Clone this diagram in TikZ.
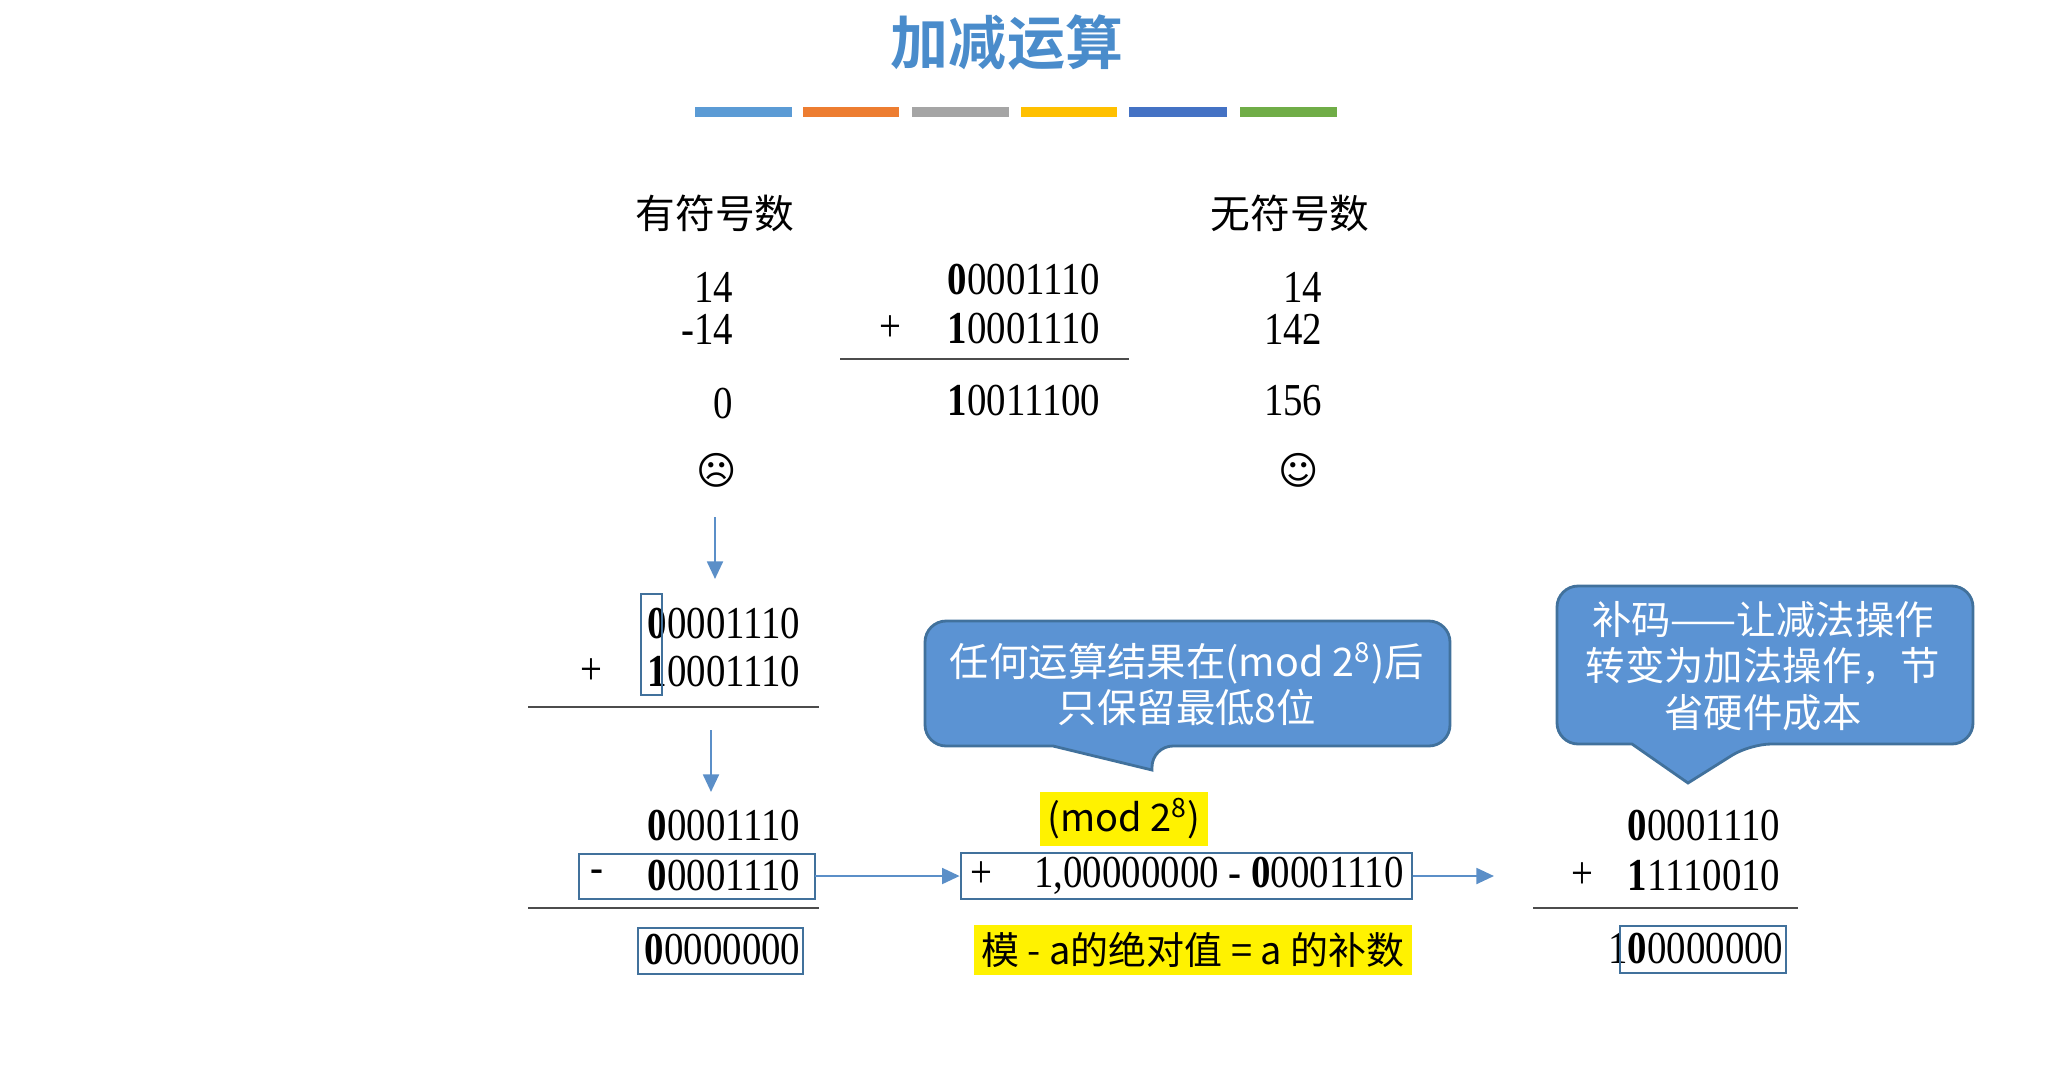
\documentclass[tikz,border=0pt]{standalone}
\usepackage{fontspec}
\setmainfont{Liberation Serif}
\newfontfamily\cjk{Noto Sans CJK SC}
\newfontfamily\cjkb{Noto Sans CJK SC}[BoldFont={* Bold}]
\newfontfamily\digits{Liberation Serif}[FakeStretch=0.85]
\newfontfamily\sym{DejaVu Sans}
\usetikzlibrary{arrows.meta}
\definecolor{tblue}{HTML}{4A8CCB}
\definecolor{cfill}{HTML}{5B93D3}
\definecolor{cline}{HTML}{41719C}
\definecolor{arr}{HTML}{5B8FC8}
\definecolor{b1}{HTML}{5B9BD5}\definecolor{b2}{HTML}{ED7D31}\definecolor{b3}{HTML}{A5A5A5}
\definecolor{b4}{HTML}{FFC000}\definecolor{b5}{HTML}{4472C4}\definecolor{b6}{HTML}{70AD47}
\tikzset{
 num/.style={anchor=east,inner sep=0pt,font=\digits\fontsize{13}{14}\selectfont},
 lbl/.style={inner sep=0pt,font=\cjk\fontsize{11.3}{13}\selectfont},
 face/.style={inner sep=0pt,font=\sym\fontsize{11}{14}\selectfont},
 ctext/.style={align=center,text=white,inner sep=0pt,font=\cjk\fontsize{11.2}{13.2}\selectfont},
 calloutshape/.style={fill=cfill,draw=cline,line width=0.8pt},
 rule/.style={draw=black!70,line width=0.6pt},
 frame/.style={draw=cline,line width=0.7pt},
 flow/.style={draw=arr,line width=0.7pt,-{Triangle[length=5pt,width=4.5pt]}},
 bar/.style={line width=3pt},
 hl/.style={fill=yellow,inner sep=2pt,font=\cjk\fontsize{10.8}{13}\selectfont}
}
\begin{document}
\begin{tikzpicture}[x=0.01cm,y=-0.01cm]
\useasboundingbox (0,0) rectangle (2063,1078);
% title
\node[text=tblue,font=\cjkb\bfseries\fontsize{16.5}{18}\selectfont] (title) at (1007,43) {加减运算};
\foreach \a/\b/\c in {695/792/b1,803/899/b2,912/1009/b3,1021/1117/b4,1129/1227/b5,1240/1337/b6}
  \draw[bar,\c] (\a,112) -- (\b,112);
% headers
\node[lbl] (hs) at (715,213) {有符号数};
\node[lbl] (hu) at (1290,213) {无符号数};
% signed column
\node[num] (s1) at (734,287) {14};
\node[num] (s2) at (734,329) {-14};
\node[num] (s3) at (734,404) {0};
\node[face] (sad) at (717,470) {☹};
% middle
\node[num] (m1) at (1101,280) {\textbf{0}0001110};
\node[num] (m2) at (1101,329) {\textbf{1}0001110};
\node[num] (mp) at (902,329) {+};
\draw[rule] (840,359) -- (1129,359);
\node[num] (m3) at (1101,401) {\textbf{1}0011100};
% unsigned
\node[num] (u1) at (1323,287) {14};
\node[num] (u2) at (1323,329) {142};
\node[num] (u3) at (1323,401) {156};
\node[face] (happy) at (1299,470) {☺};
% arrow 1
\coordinate (a1s) at (715,517);
\coordinate (a1e) at (715,579);
\draw[flow] (a1s) -- (a1e);
% left block 1
\node[num] (l1) at (801,624) {\textbf{0}0001110};
\node[num] (l2) at (801,672) {\textbf{1}0001110};
\node[num] (lp) at (603,672) {+};
\draw[frame] (641,594) rectangle (662,695);
\draw[rule] (528,707) -- (819,707);
\coordinate (a2s) at (711,730);
\coordinate (a2e) at (711,792);
\draw[flow] (a2s) -- (a2e);
% left block 2
\node[num] (k1) at (801,826) {\textbf{0}0001110};
\node[num] (k2) at (801,876) {\textbf{0}0001110};
\node[num] (km) at (604,876) {-};
\draw[frame] (579,854) rectangle (815,899);
\coordinate (kbox) at (815,876);
\draw[rule] (528,908) -- (819,908);
\node[num] (k3) at (801,950) {\textbf{0}0000000};
\draw[frame] (638,928) rectangle (803,974);
% middle box
\node[frame,minimum width=4.51cm,minimum height=0.46cm,inner sep=0pt] (mb) at (1186.5,876) {};
\node[num,anchor=west] at (970,876) {+\hspace{0.7em} 1,00000000 - \textbf{0}0001110};
\node[hl] (mod) at (1124,819) {(mod 2\textsuperscript{8})};
\node[hl] (note) at (1193,950) {模 - a的绝对值 = a 的补数};
\coordinate (mbend) at (1494,876);
\draw[flow] (kbox) -- (mb.west);
\draw[flow] (mb.east) -- (mbend);
% right block
\node[num] (r1) at (1781,826) {\textbf{0}0001110};
\node[num] (r2) at (1781,876) {\textbf{1}1110010};
\node[num] (rp) at (1594,876) {+};
\draw[rule] (1533,908) -- (1798,908);
\node[num] (r3) at (1784,949) {1\textbf{0}0000000};
\draw[frame] (1620,926) rectangle (1786,973);
% callouts
\draw[calloutshape,rounded corners=6pt] (1053,746) -- (925,746) -- (925,621) -- (1450,621) -- (1450,746) -- (1152,746) [sharp corners] -- (1152,770) -- (1053,746) -- cycle;
\node[ctext] (c1) at (1187,684) {任何运算结果在(mod 2\textsuperscript{8})后\\只保留最低8位};
\draw[calloutshape,rounded corners=6pt] (1632,744) -- (1557,744) -- (1557,586) -- (1973,586) -- (1973,744) -- (1750,744) [sharp corners] -- (1688,783) -- (1632,744) -- cycle;
\node[ctext] (c2) at (1763,666) {补码——让减法操作\\转变为加法操作，节\\省硬件成本};
\end{tikzpicture}
\end{document}
